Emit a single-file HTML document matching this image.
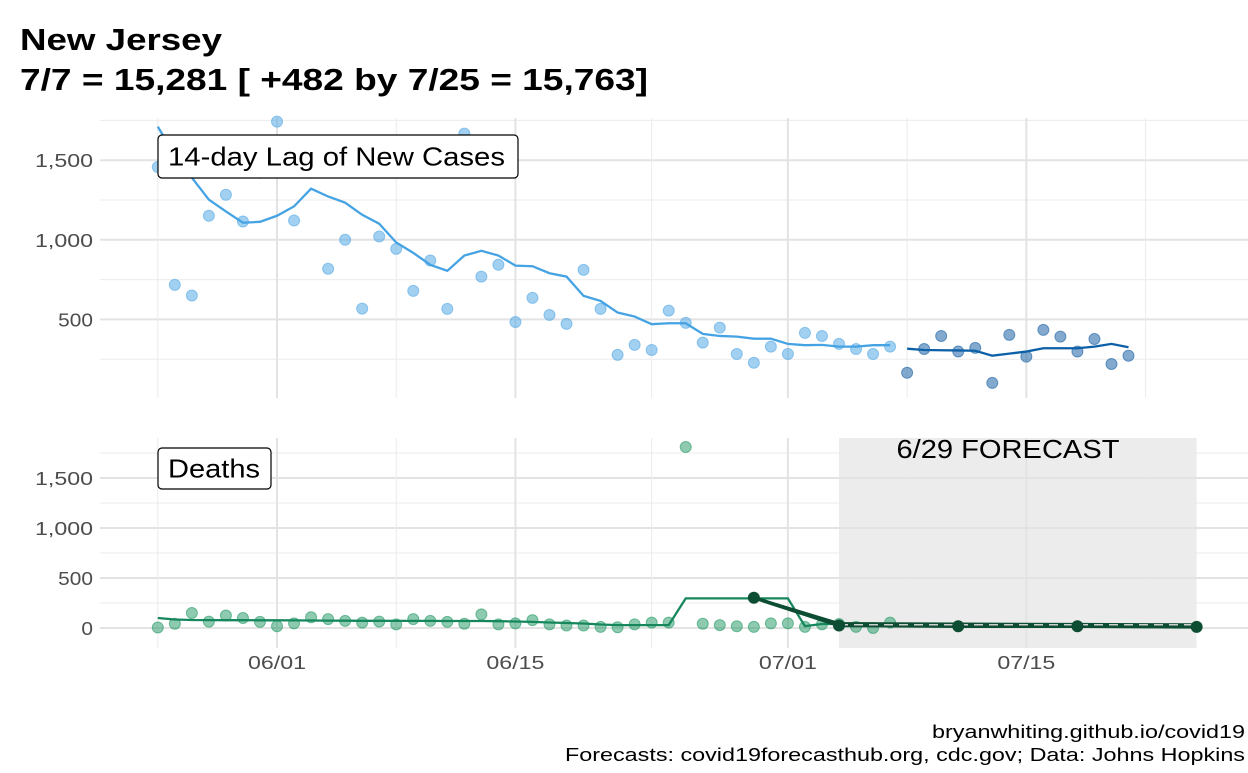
<!DOCTYPE html>
<html><head><meta charset="utf-8">
<style>
body{margin:0;background:#fff;}
svg text{font-family:"Liberation Sans",Arial,sans-serif;}
</style></head>
<body>
<svg id="chart" width="1248" height="768" viewBox="0 0 1248 768" xmlns="http://www.w3.org/2000/svg">
<text x="20" y="50" font-size="31" font-weight="bold" fill="#000" textLength="202" lengthAdjust="spacingAndGlyphs">New Jersey</text>
<text x="20" y="90" font-size="31" font-weight="bold" fill="#000" textLength="628" lengthAdjust="spacingAndGlyphs">7/7 = 15,281 [ +482 by 7/25 = 15,763]</text>
<g id="grid"></g>
<g id="marks"></g>
<text x="1245" y="738" font-size="18" text-anchor="end" fill="#000" textLength="313" lengthAdjust="spacingAndGlyphs">bryanwhiting.github.io/covid19</text>
<text x="1245" y="761" font-size="18" text-anchor="end" fill="#000" textLength="680" lengthAdjust="spacingAndGlyphs">Forecasts: covid19forecasthub.org, cdc.gov; Data: Johns Hopkins</text>
</svg>
<script>
// days since 5/25
const caseDays = Array.from({length:44},(_, i)=>i);
const casePoints = [1457,717,650,1151,1283,1115,1421,1742,1121,1421,818,1000,568,1021,943,679,870,566,1667,769,843,484,635,528,472,811,566,277,340,308,555,478,354,448,283,228,329,283,415,396,346,314,283,329];
const caseTrend = [1711,1530,1390,1252,1178,1107,1113,1151,1210,1321,1272,1233,1157,1101,983,918,843,805,901,931,901,838,834,790,769,648,616,543,518,470,476,476,409,396,392,379,379,346,338,340,329,329,338,338];
const recentDays = [44,45,46,47,48,49,50,51,52,53,54,55,56,57];
const recentPoints = [165,314,396,298,321,101,403,266,434,392,298,377,220,272];
const recentTrend = [316,308,306,305,303,272,285,298,319,319,319,329,346,325];
const deathDays = Array.from({length:44},(_, i)=>i);
const deathPoints = [5,43,150,64,125,100,61,18,46,107,89,71,54,64,36,89,71,61,43,136,36,46,79,36,25,25,11,7,36,54,54,1810,43,29,18,11,46,46,11,36,40,11,0,54];
const deathTrend = [100,85,80,79,78,78,77,77,76,75,74,73,72,72,71,71,71,70,70,70,68,65,61,55,50,45,35,29,29,29,29,296,296,296,296,296,296,296,18,40,40,40,40,40];
const fcDays = [35,40,47,54,61];
const fcPoints = [303,25,18,18,11];
const fcUpper = [303,45,40,36,33];
const fcDashDays = [40,61];
const fcDash = [32,32];
const xTickDays = [7,21,37,51];
const xTickLabels = ["06/01","06/15","07/01","07/15"];
const yTicks = [500,1000,1500];
const yTickLabels = ["500","1,000","1,500"];
const yTicks2 = [0,500,1000,1500];
const yTickLabels2 = ["0","500","1,000","1,500"];

const NS="http://www.w3.org/2000/svg";
const x = d => 157.8 + d*17.03;
const yTop = v => 399 - v*0.1592;
const yBot = v => 628 - v*0.1;
const grid=document.getElementById('grid'), marks=document.getElementById('marks');
function mk(tag, attrs, parent){const e=document.createElementNS(NS,tag);for(const k in attrs)e.setAttribute(k,attrs[k]);parent.appendChild(e);return e;}

const shade = mk('rect',{x:x(40),y:438,width:x(61)-x(40),height:210,fill:'#ececec'},grid);



const minorDays=[0,14,29,44,58];
function panelGrid(y0,y1,yf,majors,minors,name){
  minors.forEach(v=>{const l=mk('line',{x1:100,x2:1248,y1:yf(v),y2:yf(v),stroke:'#ebebeb','stroke-width':1},grid);
    
    });
  majors.forEach(v=>{const l=mk('line',{x1:100,x2:1248,y1:yf(v),y2:yf(v),stroke:'#e3e3e3','stroke-width':2},grid);
    
    });
  minorDays.forEach(d=>{const l=mk('line',{x1:x(d),x2:x(d),y1:y0,y2:y1,stroke:'#ebebeb','stroke-width':1},grid);
    
    });
  xTickDays.forEach(d=>{const l=mk('line',{x1:x(d),x2:x(d),y1:y0,y2:y1,stroke:'#e3e3e3','stroke-width':2},grid);
    
    });
}
panelGrid(118,398,yTop,yTicks,[250,750,1250,1750],'cases');
panelGrid(438,648,yBot,yTicks2,[250,750,1250,1750],'deaths');

function tlen(s){return s.length*11.6;}
yTicks.forEach((v,i)=>{const t=mk('text',{x:93,y:yTop(v)+7,'font-size':18,'text-anchor':'end',fill:'#4d4d4d',textLength:tlen(yTickLabels[i]),lengthAdjust:'spacingAndGlyphs'},marks);t.textContent=yTickLabels[i];
  
  });
yTicks2.forEach((v,i)=>{const t=mk('text',{x:93,y:yBot(v)+7,'font-size':18,'text-anchor':'end',fill:'#4d4d4d',textLength:tlen(yTickLabels2[i]),lengthAdjust:'spacingAndGlyphs'},marks);t.textContent=yTickLabels2[i];
  
  });
xTickDays.forEach((d,i)=>{const t=mk('text',{x:x(d),y:669,'font-size':18,'text-anchor':'middle',fill:'#4d4d4d',textLength:58,lengthAdjust:'spacingAndGlyphs'},marks);t.textContent=xTickLabels[i];
  
  });

function line(days,vals,yf,attrs,name){
  const p=mk('polyline',Object.assign({points:days.map((d,i)=>x(d)+','+yf(vals[i])).join(' '),fill:'none'},attrs),marks);
  
  
}
function pts(days,vals,yf,attrs,name){
  days.forEach((d,i)=>{const c=mk('circle',Object.assign({cx:x(d),cy:yf(vals[i]),r:5.5},attrs),marks);
    
    });
}
pts(caseDays,casePoints,yTop,{fill:'rgba(86,170,230,0.55)',stroke:'rgba(86,170,230,0.6)'},'case-point');
line(caseDays,caseTrend,yTop,{stroke:'#45a3e3','stroke-width':2.3},'case-trend-line');
pts(recentDays,recentPoints,yTop,{fill:'rgba(30,100,165,0.55)',stroke:'rgba(30,100,165,0.6)'},'recent-case-point');
line(recentDays,recentTrend,yTop,{stroke:'#0d5fa8','stroke-width':2.3},'recent-trend-line');

pts(deathDays,deathPoints,yBot,{fill:'rgba(27,150,95,0.5)',stroke:'rgba(27,150,95,0.55)'},'death-point');
line(deathDays,deathTrend,yBot,{stroke:'#16875d','stroke-width':2.3},'death-trend-line');
line(fcDays,fcUpper,yBot,{stroke:'#0c4d33','stroke-width':3},'forecast-upper-line');
line(fcDays,fcPoints,yBot,{stroke:'#0c4d33','stroke-width':3.5},'forecast-line');
line(fcDashDays,fcDash,yBot,{stroke:'#cfcfcf','stroke-width':1.5,'stroke-dasharray':'9 6'},'forecast-dashed-line');
pts(fcDays,fcPoints,yBot,{fill:'#0c4d33',r:6},'forecast-point');

const ft=mk('text',{x:1008,y:458,'font-size':26,'text-anchor':'middle',fill:'#000',textLength:223,lengthAdjust:'spacingAndGlyphs'},marks);ft.textContent='6/29 FORECAST';



function label(x0,y0,w,h,txt,tw,name){
  const g=mk('g',{},marks);
  
  
  mk('rect',{x:x0,y:y0,width:w,height:h,rx:4,fill:'#fff',stroke:'#000','stroke-width':1.2},g);
  const t=mk('text',{x:x0+10,y:y0+h/2+9,'font-size':26,fill:'#000',textLength:tw,lengthAdjust:'spacingAndGlyphs'},g);t.textContent=txt;
}
label(158,135,360,43,'14-day Lag of New Cases',337,'cases-panel-label');
label(158,448,113,41,'Deaths',92,'deaths-panel-label');
</script>
</body></html>
